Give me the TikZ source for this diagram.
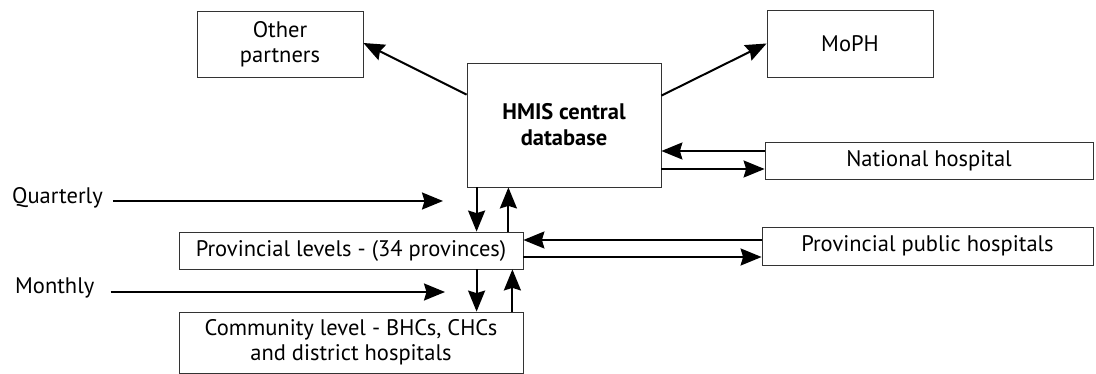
\documentclass[tikz,border=0pt]{standalone}
\usepackage{fontspec}
\setmainfont{PT Sans}
\usetikzlibrary{arrows.meta}
\begin{document}
\begin{tikzpicture}[x=1pt,y=-1pt,
        box/.style={draw=black!80, line width=0.8pt, align=center, inner sep=0pt, font=\fontsize{22.5}{25}\selectfont},
        arr/.style={-{Stealth[length=21pt,width=17pt,inset=2.5pt]}, line width=2pt},
        lbl/.style={anchor=west, inner sep=0pt, font=\fontsize{22.5}{25}\selectfont}]
        % Cornice
        \useasboundingbox (0,0) rectangle (1096,374);

        % Database centrale
        \node[box, minimum width=194pt, minimum height=124pt, font=\fontsize{22.5}{26}\selectfont\bfseries] (hmis) at (564,125) {HMIS central\\database};

        % Destinatari
        \node[box, minimum width=166pt, minimum height=66pt] (partners) at (280,44) {Other\\partners};
        \node[box, minimum width=166pt, minimum height=67pt] (moph) at (850,43.5) {MoPH};

        % Ospedali
        \node[box, minimum width=328pt, minimum height=37pt] (nathosp) at (929,160.5) {National hospital};
        \node[box, minimum width=331pt, minimum height=38pt] (provhosp) at (927.5,246) {Provincial public hospitals};

        % Livelli
        \node[box, minimum width=344pt, minimum height=37pt] (prov) at (351,250.5) {Provincial levels - (34 provinces)};
        \node[box, minimum width=344pt, minimum height=61pt] (comm) at (351,342.5) {Community level - BHCs, CHCs\\and district hospitals};

        % Frequenze
        \node[lbl] (quart) at (12,198) {Quarterly};
        \node[lbl] (month) at (15,288) {Monthly};
        \coordinate (qend) at (443,201);
        \coordinate (mend) at (445,292);

        \draw[arr] (quart.east |- qend) ++(10,0) -- (qend);
        \draw[arr] (month.east |- mend) ++(16,0) -- (mend);

        % Uscite
        \draw[arr] ([yshift=-32pt]hmis.north west) -- ([yshift=1pt]partners.east);
        \draw[arr] ([yshift=-33pt]hmis.north east) -- (moph.west);

        % Scambi con ospedali
        \draw[arr] ([yshift=9.5pt]nathosp.west) -- ([yshift=9.5pt]nathosp.west -| hmis.east);
        \draw[arr] ([yshift=-8.5pt]nathosp.west -| hmis.east) -- ([yshift=-8.5pt]nathosp.west);
        \draw[arr] ([yshift=6pt]provhosp.west) -- ([yshift=6pt]provhosp.west -| prov.east);
        \draw[arr] ([yshift=-11pt]provhosp.west -| prov.east) -- ([yshift=-11pt]provhosp.west);

        % Su e giu
        \draw[arr] ([xshift=10pt]hmis.south west) -- ([xshift=10pt]hmis.south west |- prov.north);
        \draw[arr] ([xshift=-15pt]prov.north east) -- ([xshift=-15pt]prov.north east |- hmis.south);
        \draw[arr] ([xshift=10pt]hmis.south west |- prov.south) -- ([xshift=10pt]hmis.south west |- comm.north);
        \draw[arr] ([xshift=-11pt]comm.north east) -- ([xshift=-11pt]comm.north east |- prov.south);
\end{tikzpicture}
\end{document}
